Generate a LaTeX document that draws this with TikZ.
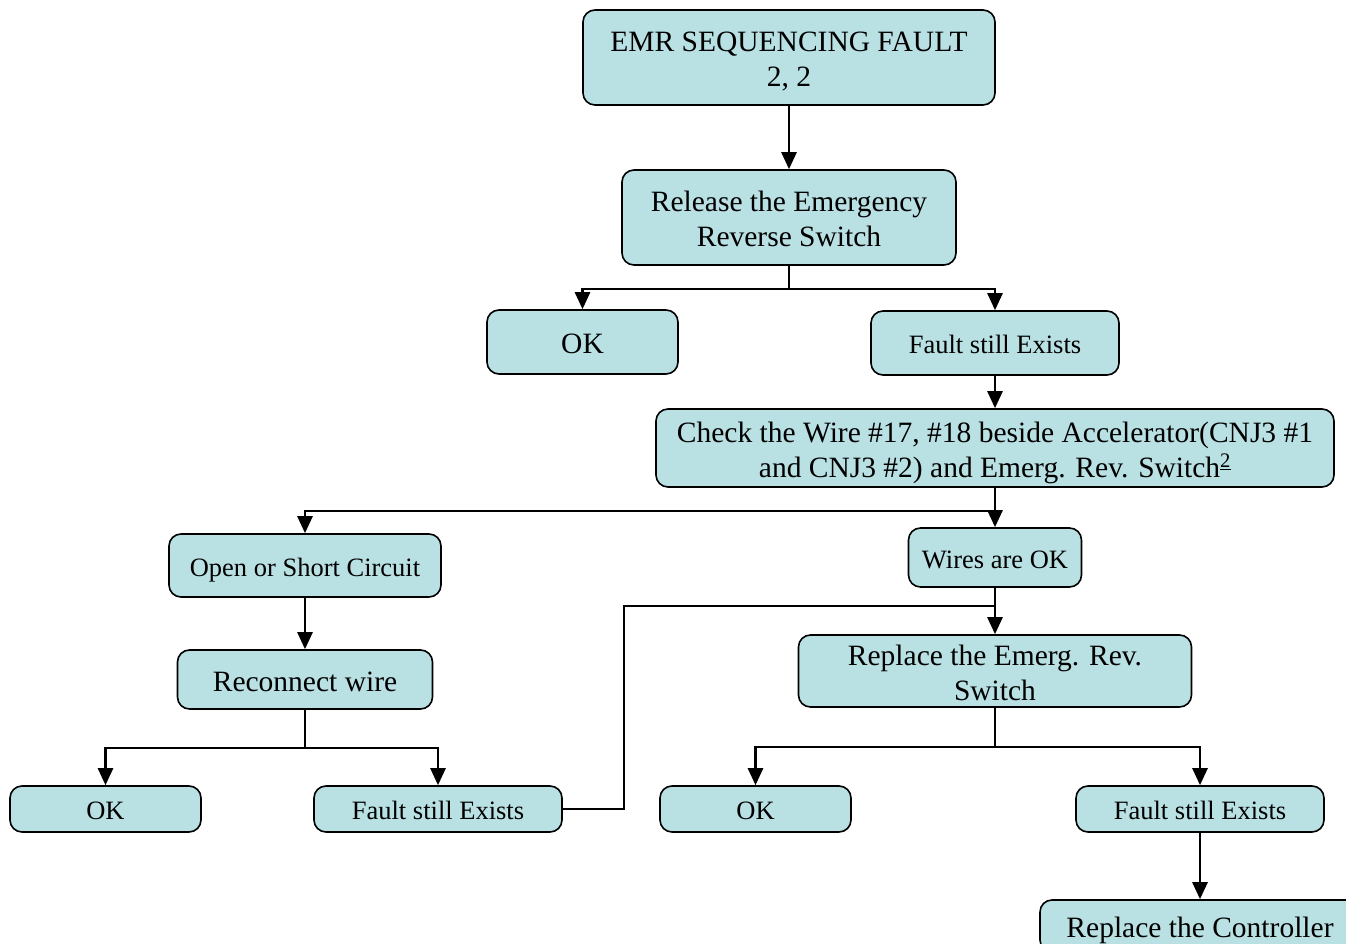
\documentclass[tikz,border=0pt]{standalone}
\usepackage{fontspec}
\setmainfont{Liberation Serif}
\usetikzlibrary{arrows.meta}
\definecolor{boxblue}{RGB}{185,224,227}
\newcommand{\bigtxt}{\fontsize{29.5}{35}\selectfont}
\newcommand{\smalltxt}{\fontsize{26.5}{32}\selectfont}
% box text: centred lines, set a little below the middle of the box
\newcommand{\tx}[1]{\raisebox{0pt}[\dimexpr\height+4.5pt\relax][\dimexpr\depth-4.5pt\relax]{\begin{tabular}{@{}c@{}}#1\end{tabular}}}
\begin{document}
\begin{tikzpicture}[x=1pt,y=-1pt,
  box/.style={draw, fill=boxblue, rounded corners=12pt, line width=1.6pt,
              inner sep=0pt, font=\bigtxt},
  small/.style={font=\smalltxt},
  link/.style={line width=2.6pt},
  arr/.style={link, -{Triangle[width=15pt,length=17pt]}}]
\useasboundingbox (0,0) rectangle (1346,944);

% decision boxes
\node[box, minimum width=412, minimum height=95] (top) at (789,57.5)
  {\tx{EMR SEQUENCING FAULT\\2, 2}};
\node[box, minimum width=334, minimum height=95] (rel) at (789,217.5)
  {\tx{Release the Emergency\\Reverse Switch}};
\node[box, minimum width=191, minimum height=64] (ok1) at (582.5,342) {\tx{OK}};
\node[box, small, minimum width=248, minimum height=64] (fse1) at (995,343) {\tx{Fault still Exists}};
\node[box, minimum width=678, minimum height=78] (chk) at (995,448)
  {\tx{Check the Wire \#17, \#18 beside Accelerator(CNJ3 \#1\\
   and CNJ3 \#2) and Emerg. Rev. Switch\textsuperscript{\underline{2}}}};
\node[box, small, minimum width=272, minimum height=63] (open) at (305,565.5) {\tx{Open or Short Circuit}};
\node[box, small, minimum width=173, minimum height=59] (wires) at (995,557.5) {\tx{Wires are OK}};
\node[box, minimum width=255, minimum height=59] (recon) at (305,679.5) {\tx{Reconnect wire}};
\node[box, minimum width=393, minimum height=72] (rep) at (995,671)
  {\tx{Replace the Emerg. Rev.\\Switch}};
\node[box, small, minimum width=191, minimum height=46] (ok2) at (105.5,809) {\tx{OK}};
\node[box, small, minimum width=248, minimum height=46] (fse2) at (438,809) {\tx{Fault still Exists}};
\node[box, small, minimum width=191, minimum height=46] (ok3) at (755.5,809) {\tx{OK}};
\node[box, small, minimum width=248, minimum height=46] (fse3) at (1200,809) {\tx{Fault still Exists}};
\node[box, minimum width=320, minimum height=52] (ctrl) at (1200,926) {\tx{Replace the Controller}};

% connectors
\draw[arr] (top.south) -- (rel.north);
\draw[arr] (rel.south) -- ++(0,23) -| (ok1.north);
\draw[arr] (rel.south) -- ++(0,23) -| (fse1.north);
\draw[arr] (fse1.south) -- (chk.north);
\draw[arr] (chk.south) -- ++(0,23) -| (open.north);
\draw[arr] (chk.south) -- ++(0,23) -| (wires.north);
\draw[arr] (open.south) -- (recon.north);
\draw[arr] (recon.south) -- ++(0,38) -| (ok2.north);
\draw[arr] (recon.south) -- ++(0,38) -| (fse2.north);
\coordinate (join) at (995,606);
\draw[link] (fse2.east) -- ++(61,0) |- (join);
\draw[arr] (wires.south) -- (rep.north);
\draw[arr] (rep.south) -- ++(0,39) -| (ok3.north);
\draw[arr] (rep.south) -- ++(0,39) -| (fse3.north);
\draw[arr] (fse3.south) -- (ctrl.north);
\end{tikzpicture}
\end{document}
